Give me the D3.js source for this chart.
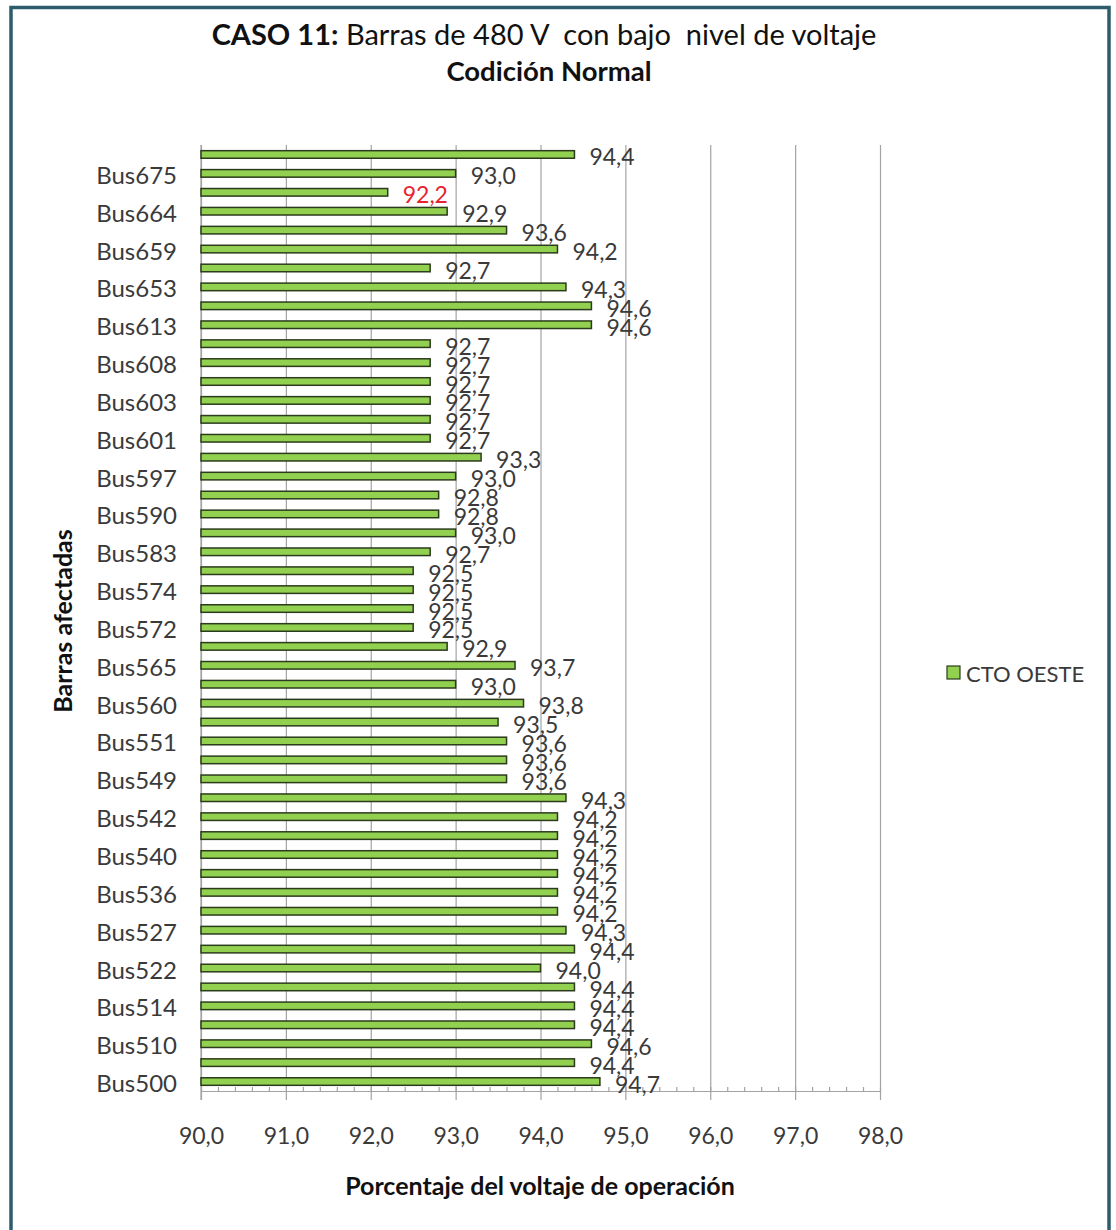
<!DOCTYPE html>
<html>
<head>
<meta charset="utf-8">
<script src="https://cdn.jsdelivr.net/npm/d3@7/dist/d3.min.js"></script>
<style>
  html, body { margin: 0; padding: 0; background: #ffffff; }
  svg { display: block; font-family: Lato, "Open Sans", sans-serif; }
  text { white-space: pre; }
</style>
</head>
<body>
<svg id="chart" width="1116" height="1230"></svg>
<script>
// Bus bars listed top to bottom; every second bar carries a name on the axis.
const busLabels = [
  "", "Bus675", "", "Bus664", "", "Bus659", "", "Bus653", "", "Bus613",
  "", "Bus608", "", "Bus603", "", "Bus601", "", "Bus597", "", "Bus590",
  "", "Bus583", "", "Bus574", "", "Bus572", "", "Bus565", "", "Bus560",
  "", "Bus551", "", "Bus549", "", "Bus542", "", "Bus540", "", "Bus536",
  "", "Bus527", "", "Bus522", "", "Bus514", "", "Bus510", "", "Bus500"
];

// Operating voltage, percent (series "CTO OESTE"), same order as busLabels.
const ctoOeste = [
  94.4, 93.0, 92.2, 92.9, 93.6, 94.2, 92.7, 94.3, 94.6, 94.6,
  92.7, 92.7, 92.7, 92.7, 92.7, 92.7, 93.3, 93.0, 92.8, 92.8,
  93.0, 92.7, 92.5, 92.5, 92.5, 92.5, 92.9, 93.7, 93.0, 93.8,
  93.5, 93.6, 93.6, 93.6, 94.3, 94.2, 94.2, 94.2, 94.2, 94.2,
  94.2, 94.3, 94.4, 94.0, 94.4, 94.4, 94.4, 94.6, 94.4, 94.7
];

// Value labels that are highlighted in red (below the lowest acceptable level).
const highlighted = [92.2];

const xTicks = [90, 91, 92, 93, 94, 95, 96, 97, 98];
const seriesName = "CTO OESTE";

const svg = d3.select("#chart");
const plot = { left: 201, right: 880, top: 145, bottom: 1091 };

const barFill = "#92d050";
const barStroke = "#2b3b1c";
const gridColor = "#a3a3a3";
const textColor = "#3a3a3a";
const fmt = v => v.toFixed(1).replace(".", ",");

// Outer frame
svg.append("rect")
  .attr("x", 11).attr("y", 7.5)
  .attr("width", 1098).attr("height", 1240)
  .attr("fill", "#ffffff")
  .attr("stroke", "#2d5c6c").attr("stroke-width", 3.5);

const x = d3.scaleLinear().domain([90, 98]).range([plot.left, plot.right]);
const y = d3.scaleBand()
  .domain(d3.range(ctoOeste.length))
  .range([plot.top, plot.bottom])
  .paddingInner(0.6).paddingOuter(0.3);

// Vertical gridlines (extend a little below the axis as major ticks)
svg.append("g")
  .attr("transform", `translate(0,${plot.bottom})`)
  .call(d3.axisBottom(x).tickValues(xTicks).tickSize(-(plot.bottom - plot.top)).tickFormat(""))
  .call(g => g.select(".domain").remove())
  .call(g => g.selectAll(".tick line").attr("stroke", gridColor).attr("stroke-width", 1.2));

// Minor ticks every 0.2, pointing into the plot
const minor = d3.range(90, 98.0001, 0.2).map(v => +v.toFixed(1));
svg.append("g")
  .attr("transform", `translate(0,${plot.bottom})`)
  .call(d3.axisBottom(x).tickValues(minor).tickSize(-4).tickFormat(""))
  .call(g => g.select(".domain").remove())
  .call(g => g.selectAll(".tick line").attr("stroke", gridColor).attr("stroke-width", 1.2));

// Main x axis with labels
const xAxis = svg.append("g")
  .attr("transform", `translate(0,${plot.bottom})`)
  .call(d3.axisBottom(x).tickValues(xTicks).tickSize(9).tickSizeOuter(0).tickPadding(0).tickFormat(fmt));
xAxis.select(".domain").attr("stroke", gridColor).attr("stroke-width", 1.2);
xAxis.selectAll(".tick line").attr("stroke", gridColor).attr("stroke-width", 1.2);
xAxis.selectAll(".tick text")
  .attr("y", 44).attr("dy", null)
  .attr("dominant-baseline", "central")
  .attr("font-size", 23).attr("font-family", "Lato").attr("fill", textColor);

// Left category axis
const yAxis = svg.append("g")
  .attr("transform", `translate(${plot.left},0)`)
  .call(d3.axisLeft(y).tickSize(0).tickPadding(24).tickFormat(i => busLabels[i]));
yAxis.select(".domain").remove();
yAxis.selectAll(".tick text")
  .attr("dy", null).attr("y", 1)
  .attr("dominant-baseline", "central")
  .attr("font-size", 24).attr("font-family", "Lato").attr("fill", textColor);

svg.append("line")
  .attr("x1", plot.left).attr("x2", plot.left)
  .attr("y1", plot.top).attr("y2", plot.bottom + 9)
  .attr("stroke", gridColor).attr("stroke-width", 1.2);

// Bars
svg.append("g").selectAll("rect")
  .data(ctoOeste)
  .join("rect")
  .attr("x", x(90))
  .attr("y", (d, i) => y(i))
  .attr("width", d => x(d) - x(90))
  .attr("height", y.bandwidth())
  .attr("fill", barFill)
  .attr("stroke", barStroke)
  .attr("stroke-width", 1.5);

// Value labels
svg.append("g").selectAll("text")
  .data(ctoOeste)
  .join("text")
  .attr("x", d => x(d) + 15)
  .attr("y", (d, i) => y(i) + y.bandwidth() / 2 + 2)
  .attr("dominant-baseline", "central")
  .attr("font-size", 23)
  .attr("fill", d => highlighted.includes(d) ? "#e8232f" : textColor)
  .text(fmt);

// Title
const title = svg.append("text")
  .attr("x", 544).attr("y", 33)
  .attr("text-anchor", "middle").attr("dominant-baseline", "central")
  .attr("font-size", 29).attr("fill", "#111111");
title.append("tspan").attr("font-weight", "bold").text("CASO 11:");
title.append("tspan").text(" Barras de 480 V  con bajo  nivel de voltaje");

svg.append("text")
  .attr("x", 549).attr("y", 70)
  .attr("text-anchor", "middle").attr("dominant-baseline", "central")
  .attr("font-size", 27.5).attr("font-weight", "bold").attr("fill", "#111111")
  .text("Codición Normal");

// Axis titles
svg.append("text")
  .attr("x", 540).attr("y", 1185)
  .attr("text-anchor", "middle").attr("dominant-baseline", "central")
  .attr("font-size", 25).attr("font-weight", "bold").attr("fill", "#111111")
  .text("Porcentaje del voltaje de operación");

svg.append("text")
  .attr("transform", "translate(62,621) rotate(-90)")
  .attr("text-anchor", "middle").attr("dominant-baseline", "central")
  .attr("font-size", 25).attr("font-weight", "bold").attr("fill", "#111111")
  .text("Barras afectadas");

// Legend
const legend = svg.append("g").attr("transform", "translate(947,666)");
legend.append("rect")
  .attr("width", 13).attr("height", 13)
  .attr("fill", barFill).attr("stroke", barStroke).attr("stroke-width", 1.2);
legend.append("text")
  .attr("x", 19).attr("y", 7.5)
  .attr("dominant-baseline", "central")
  .attr("font-size", 22).attr("fill", textColor)
  .text(seriesName);
</script>
</body>
</html>
